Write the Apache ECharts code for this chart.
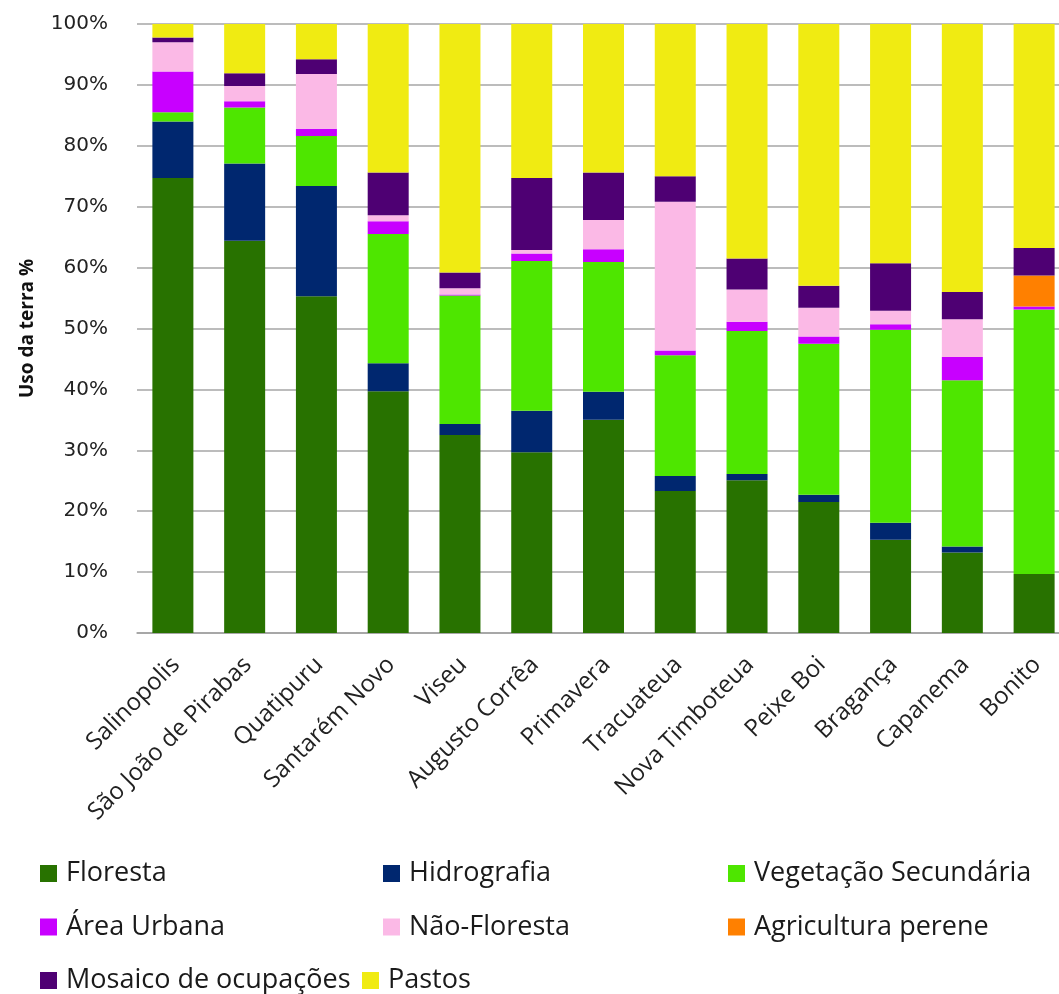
<!DOCTYPE html>
<html>
<head>
<meta charset="utf-8">
<script src="https://cdn.jsdelivr.net/npm/echarts@6/dist/echarts.min.js"></script>
<style>
  html, body { margin: 0; padding: 0; background: #ffffff; }
  #chart { width: 1059px; height: 994px; }
</style>
</head>
<body>
<div id="chart"></div>
<script>
// Municipalities (x axis)
const municipios = ['Salinopolis', 'São João de Pirabas', 'Quatipuru', 'Santarém Novo', 'Viseu',
  'Augusto Corrêa', 'Primavera', 'Tracuateua', 'Nova Timboteua', 'Peixe Boi', 'Bragança', 'Capanema', 'Bonito'];

// Land-use share per municipality (%)
const floresta      = [74.7, 64.4, 55.3, 39.7, 32.5, 29.7, 35.0, 23.3, 25.1, 21.5, 15.3, 13.2,  9.7];
const hidrografia   = [ 9.3, 12.7, 18.1,  4.6,  1.8,  6.8,  4.6,  2.5,  1.0,  1.2,  2.8,  1.0,  0.0];
const vegSecundaria = [ 1.5,  9.2,  8.2, 21.2, 21.1, 24.6, 21.3, 19.8, 23.5, 24.8, 31.7, 27.3, 43.4];
const areaUrbana    = [ 6.7,  1.0,  1.2,  2.1,  0.2,  1.2,  2.1,  0.8,  1.5,  1.2,  0.9,  3.8,  0.5];
const naoFloresta   = [ 4.8,  2.5,  9.0,  1.0,  1.0,  0.6,  4.8, 24.4,  5.3,  4.7,  2.2,  6.2,  0.0];
const agricultura   = [ 0.0,  0.0,  0.0,  0.0,  0.0,  0.0,  0.0,  0.0,  0.0,  0.0,  0.0,  0.0,  5.1];
const mosaico       = [ 0.8,  2.1,  2.4,  7.0,  2.6, 11.8,  7.8,  4.2,  5.1,  3.6,  7.8,  4.5,  4.5];
const pastos        = [ 2.2,  8.1,  5.8, 24.4, 40.8, 25.3, 24.4, 25.0, 38.5, 43.0, 39.3, 44.0, 36.8];

// Y axis ticks
const yTicks = { min: 0, max: 100, interval: 10 };

const layers = [
  { name: 'Floresta',              data: floresta,      color: '#287200' },
  { name: 'Hidrografia',           data: hidrografia,   color: '#00276f' },
  { name: 'Vegetação Secundária',  data: vegSecundaria, color: '#4ee600' },
  { name: 'Área Urbana',           data: areaUrbana,    color: '#c800ff' },
  { name: 'Não-Floresta',          data: naoFloresta,   color: '#fbb9e6' },
  { name: 'Agricultura perene',    data: agricultura,   color: '#ff8000' },
  { name: 'Mosaico de ocupações',  data: mosaico,       color: '#4e0073' },
  { name: 'Pastos',                data: pastos,        color: '#f0eb12' }
];

const gridLeft = 137, gridTop = 24, gridW = 933, gridH = 609;
const labelShift = 3;    // rotated category labels sit a little right of each bar centre
const textFont = '"Open Sans", "Noto Sans", sans-serif';

function legendBlock(names, left, top) {
  return {
    orient: 'vertical',
    left: left, top: top,
    padding: 0,
    itemWidth: 17, itemHeight: 17,
    itemGap: 26.5,
    icon: 'rect',
    selectedMode: false,
    textStyle: { fontFamily: textFont, fontSize: 27, lineHeight: 27, color: '#1a1a1a', padding: [0, 0, 0, 4] },
    data: names
  };
}

const chart = echarts.init(document.getElementById('chart'), null, { renderer: 'canvas' });

chart.setOption({
  backgroundColor: '#ffffff',
  animation: false,
  grid: [
    { left: gridLeft, top: gridTop, width: gridW, height: gridH, containLabel: false, outerBoundsMode: 'none' },
    { left: gridLeft + labelShift, top: gridTop, width: gridW, height: gridH, containLabel: false, outerBoundsMode: 'none' }
  ],
  xAxis: [
    {
      type: 'category', gridIndex: 0, data: municipios,
      axisLine: { show: true, lineStyle: { color: '#a0a0a0', width: 1.5 } },
      axisTick: { show: false },
      axisLabel: { show: false }
    },
    {
      type: 'category', gridIndex: 1, data: municipios,
      axisLine: { show: false }, axisTick: { show: false },
      axisLabel: { rotate: 45, margin: 28, fontFamily: textFont, fontSize: 24, color: '#222222', interval: 0 }
    }
  ],
  yAxis: [
    {
      type: 'value', gridIndex: 0, min: yTicks.min, max: yTicks.max, interval: yTicks.interval,
      name: 'Uso da terra %', nameLocation: 'middle', nameGap: 100, nameRotate: 90,
      nameTextStyle: { fontFamily: '"Liberation Sans Narrow", "Open Sans", sans-serif', fontWeight: 'bold', fontSize: 19, color: '#111111' },
      axisLine: { show: false }, axisTick: { show: false },
      axisLabel: { formatter: '{value}%', margin: 29, fontFamily: '"DejaVu Sans", sans-serif', fontSize: 20, color: '#222222' },
      splitLine: { show: true, lineStyle: { color: '#a6a6a6', width: 1.5 } }
    },
    { type: 'value', gridIndex: 1, min: 0, max: 100, show: false }
  ],
  legend: [
    legendBlock(['Floresta', 'Área Urbana', 'Mosaico de ocupações'], 40, 860),
    legendBlock(['Hidrografia', 'Não-Floresta'], 383, 860),
    legendBlock(['Vegetação Secundária', 'Agricultura perene'], 728, 860),
    legendBlock(['Pastos'], 362, 967)
  ],
  series: layers.map(l => ({
    name: l.name,
    type: 'bar',
    stack: 'uso',
    xAxisIndex: 0, yAxisIndex: 0,
    barWidth: 41,
    data: l.data,
    itemStyle: { color: l.color, borderWidth: 0 }
  }))
});
</script>
</body>
</html>
